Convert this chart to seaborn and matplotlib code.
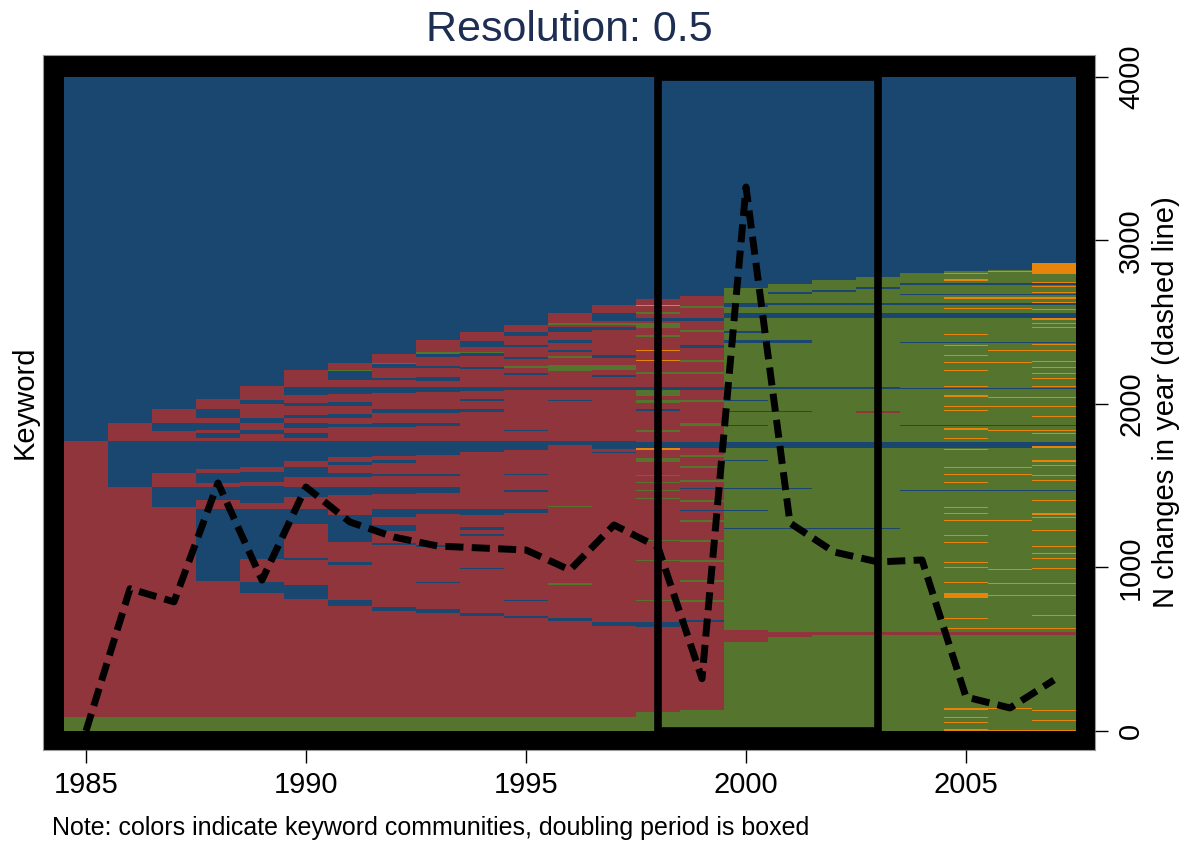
import numpy as np
import pandas as pd
import matplotlib
matplotlib.use("Agg")
import matplotlib.pyplot as plt
from matplotlib.colors import ListedColormap
from matplotlib.patches import Rectangle
import seaborn as sns

# ---------------- data ----------------
YEARS = list(range(1985, 2008))
N_CHANGES = [0, 870, 790, 1517, 923, 1492, 1278, 1186, 1131, 1119, 1107, 985,
             1260, 1125, 320, 3327, 1272, 1095, 1034, 1046, 208, 141, 312]
N_KEYWORDS = 654
COMMUNITIES = ["B", "R", "G", "O"]
COMMUNITY_COLORS = ["#1a476f", "#90353b", "#55752f", "#e8840a"]
BOX_YEARS = [1998, 2003]
X_TICKS = [1985, 1990, 1995, 2000, 2005]
Y_TICKS = [0, 1000, 2000, 3000, 4000]

# community runs per year, from the bottom keyword upward (rest is community B)
RUNS_1985 = "G14 R276"
RUNS_1986 = "G14 R230 B46 R18"
RUNS_1987 = "G14 R210 B20 R14 B32 R10 B8 R14"
RUNS_1988 = "G14 R136 B72 R9 B13 R4 B10 R4 B28 R3 B5 R3 B7 R5 B9 R10"
RUNS_1989 = "G14 R124 B11 R23 B50 R6 B17 R4 B10 R5 B26 R7 B4 R7 B5 R14 B4 R14"
RUNS_1990 = "G14 R118 B14 R25 B2 R34 B15 R12 B10 R10 B10 R6 B20 R3 B5 R5 B5 R5 B3 R9 B3 R8 B8 R17"
RUNS_1991 = "G14 R111 B6 R35 B3 R20 B27 R20 B8 R10 B4 R8 B3 R5 B16 R14 B3 R6 B4 R8 B4 R8 B7 R7 B9 G1 R7"
RUNS_1992 = "G14 R106 B4 R62 B2 R12 B6 R8 B8 R15 B7 R11 B2 R11 B3 R4 B15 R14 B4 R10 B4 R16 B6 R7 B2 R10 B4 G1 R9"
RUNS_1993 = "G14 R104 B4 R26 B1 R35 B2 R31 B5 R16 B6 R11 B2 R19 B14 R15 B3 R10 B4 R17 B5 R6 B4 R9 B2 R9 B3 G2 R12"
RUNS_1994 = "G14 R101 B3 R44 B1 R32 B2 R4 B3 R12 B6 R57 B11 R29 B3 R8 B2 R8 B4 R18 B2 R11 B3 G1 R5 B6 R9"
RUNS_1995 = "G14 R99 B2 R15 B1 R87 B4 R17 B2 R15 B1 R24 B9 R10 B1 R40 B3 R12 B2 R5 G2 R7 B2 R10 B2 R9 B4 R7"
RUNS_1996 = "G14 R96 B3 R33 G2 R76 G1 R61 B4 R40 B1 R10 B3 R16 G6 R7 G2 R4 B2 R7 B3 R8 B5 R2 G2 R10"
RUNS_1997 = "G14 R91 B4 R169 B1 R3 B8 R51 B3 R10 B2 R5 G5 R7 B3 R25 B3 R2 G2 R2 B8 R8"
RUNS_1998 = ("G19 R85 B5 R21 G1 R39 G1 R19 G1 R41 G1 R7 G1 R7 G1 R6 G1 R13 G4 R8 O2 B6 R10 G2 "
             "R19 B2 R6 G3 R4 G6 B3 R13 G2 R11 O1 R9 O1 R13 G2 R7 G5 R2 B3 R4 G2 R6 O1 R6")
RUNS_1999 = ("G21 R88 B2 R18 G2 R18 G2 R18 G2 R18 G2 R18 G2 R9 B1 R8 G2 R11 B1 R6 G2 R12 G2 R9 "
             "G2 R7 B6 R16 G3 R21 G2 R10 B3 R13 G2 R10 G2 R12 B3 R13 G2 R9 B3 R10 G2 R10")
RUNS_2000 = "G89 R12 G101 B1 G17 B1 G21 B1 G27 B1 G12 B6 G16 B1 G13 B1 G10 B1 G11 B2 G44 B3 G7 B2 G13 B5 G6 B4 G15"
RUNS_2001 = "G94 R5 G103 B1 G39 B1 G40 B6 G30 B1 G22 B2 G44 B3 G22 B5 G8 B2 G9 B2 G8"
RUNS_2002 = "G96 R3 G103 B1 G80 B6 G53 B2 G69 B5 G8 B2 G11 B2 G10"
RUNS_2003 = "G96 R3 G103 B1 G80 B6 G29 R2 G22 B2 G69 B5 G8 B2 G14 B2 G10"
RUNS_2004 = "G96 R3 G141 B1 G42 B6 G16 B1 G36 B1 G45 B1 G24 B5 G8 B2 G8 B1 G9 B2 G10"
RUNS_2005 = "G96 R3 G141 B1 G42 B6 G16 B1 G36 B1 G45 B1 G24 B5 G8 B2 G8 B1 G9 B2 G12"
RUNS_2006 = "G96 R3 G141 B1 G42 B6 G16 B1 G36 B1 G45 B1 G24 B5 G8 B2 G8 B1 G9 B2 G13"
RUNS_2007 = "G96 R3 G141 B1 G42 B6 G16 B1 G36 B1 G45 B1 G24 B5 G8 B2 G8 B1 G9 B2 G9 O11"

# single keywords switching to community O (start keyword, count)
ORANGE_2005 = [(457, 1), (450, 2), (432, 2), (422, 1), (396, 1), (385, 1), (375, 1), (368, 1),
               (360, 1), (344, 1), (334, 2), (324, 1), (320, 1), (301, 2), (292, 1), (281, 1),
               (263, 1), (256, 1), (248, 1), (223, 1), (217, 1), (210, 1), (195, 1), (188, 1),
               (168, 1), (163, 1), (148, 1), (133, 5), (112, 1), (102, 1), (21, 2), (13, 1),
               (8, 1), (0, 2)]
ORANGE_2006 = [(459, 1), (432, 2), (422, 1), (380, 1), (368, 1), (333, 1), (324, 1), (300, 1),
               (263, 1), (256, 1), (210, 1), (161, 1), (147, 1), (135, 1), (102, 1), (22, 1),
               (0, 1)]
ORANGE_2007 = [(448, 1), (444, 1), (438, 1), (432, 2), (428, 1), (421, 1), (411, 2), (407, 1),
               (403, 1), (386, 1), (380, 1), (369, 1), (363, 1), (357, 1), (352, 1), (344, 1),
               (333, 1), (324, 1), (314, 1), (300, 1), (297, 1), (283, 2), (269, 2), (265, 1),
               (255, 1), (250, 1), (230, 1), (216, 2), (213, 1), (200, 1), (184, 1), (177, 1),
               (172, 1), (162, 1), (147, 1), (135, 1), (115, 1), (102, 1), (20, 1), (10, 1),
               (0, 1)]

RUNS = [RUNS_1985, RUNS_1986, RUNS_1987, RUNS_1988, RUNS_1989, RUNS_1990, RUNS_1991,
        RUNS_1992, RUNS_1993, RUNS_1994, RUNS_1995, RUNS_1996, RUNS_1997, RUNS_1998,
        RUNS_1999, RUNS_2000, RUNS_2001, RUNS_2002, RUNS_2003, RUNS_2004, RUNS_2005,
        RUNS_2006, RUNS_2007]
STRIPES = {2005: ORANGE_2005, 2006: ORANGE_2006, 2007: ORANGE_2007}


def build_column(runs, stripes):
    col = np.zeros(N_KEYWORDS, dtype=int)
    k = 0
    for tok in runs.split():
        n = int(tok[1:])
        col[k:k + n] = COMMUNITIES.index(tok[0])
        k += n
    for start, h in stripes:
        col[start:start + h] = COMMUNITIES.index("O")
    return col


matrix = np.column_stack([build_column(r, STRIPES.get(y, [])) for r, y in zip(RUNS, YEARS)])
df = pd.DataFrame(matrix, columns=YEARS)

# ---------------- figure ----------------
sns.set_theme(style="white")
plt.rcParams["font.family"] = ["Liberation Sans", "DejaVu Sans"]

W, H = 1188, 844
fig = plt.figure(figsize=(W / 100, H / 100), dpi=100)
pos = [43 / W, (H - 750) / H, 1052 / W, 695 / H]

ax = fig.add_axes(pos, label="heat")
ax.set_facecolor("black")
sns.heatmap(df, ax=ax, cmap=ListedColormap(COMMUNITY_COLORS), vmin=-0.5, vmax=3.5,
            cbar=False, xticklabels=False, yticklabels=False, rasterized=True)
ax.set_xlim(-0.477, 23.43)
ax.set_ylim(-19, 676)
ax.set_xlabel("")
ax.set_ylabel("Keyword", fontsize=21, color="black")
ax.yaxis.set_label_coords(-0.004, 0.5)
ax.tick_params(left=False, bottom=False)
for s in ax.spines.values():
    s.set_visible(True)
    s.set_color("#9a9a9a")
    s.set_linewidth(0.8)

# doubling period box
x0 = YEARS.index(BOX_YEARS[0]) + 0.5
x1 = YEARS.index(BOX_YEARS[1]) + 0.5
ax.add_patch(Rectangle((x0, 0), x1 - x0, N_KEYWORDS, fill=False, edgecolor="black",
                       linewidth=5.5, zorder=5))

# overlay axes in year / count units
ax2 = fig.add_axes(pos, label="line", facecolor="none")
sns.lineplot(x=YEARS, y=N_CHANGES, ax=ax2, color="black", linewidth=5)
ln = ax2.lines[0]
ln.set_dashes([2.6, 1.2])
ln.set_dash_capstyle("butt")
ln.set_dash_joinstyle("round")

ax2.set_xlim(1984.023, 2007.932)
ax2.set_ylim(-116.2, 4134.5)
ax2.set_xticks(X_TICKS)
ax2.set_xticklabels([str(v) for v in X_TICKS])
ax2.set_yticks(Y_TICKS)
ax2.set_yticklabels([str(v) for v in Y_TICKS])
ax2.yaxis.tick_right()
ax2.yaxis.set_label_position("right")
ax2.tick_params(axis="x", bottom=True, top=False, length=9, width=1, color="black",
                labelsize=21, pad=6, labelcolor="black")
ax2.tick_params(axis="y", right=True, left=False, length=9, width=1, color="black",
                labelsize=21, pad=7, labelrotation=90, labelcolor="black")
plt.setp(ax2.get_yticklabels(), va="center")
ax2.set_xlabel("")
ax2.set_ylabel("N changes in year (dashed line)", fontsize=21, color="black")
ax2.yaxis.set_label_coords(1.054, 0.5)
for s in ax2.spines.values():
    s.set_visible(False)
ax2.grid(False)

ax2.set_title("Resolution: 0.5", fontsize=31, color="#1e2d52", pad=10)

fig.text(52 / W, 1 - 828 / H, "Note: colors indicate keyword communities, doubling period is boxed",
         fontsize=18, ha="left", va="center", color="black")

fig.savefig("out.png", dpi=100)
